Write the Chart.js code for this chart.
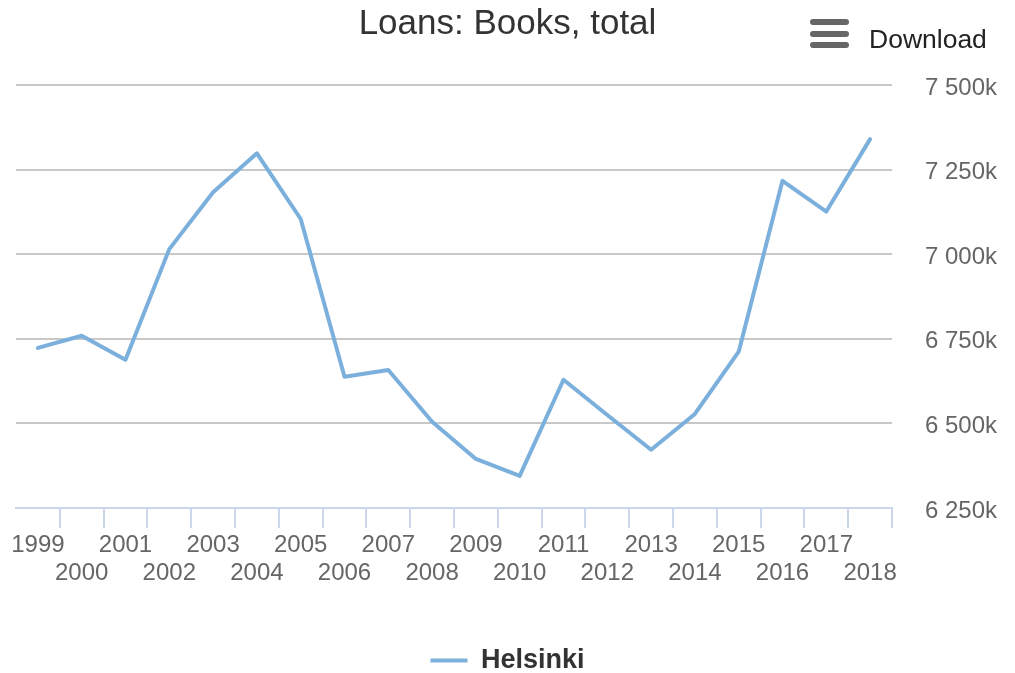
<!DOCTYPE html>
<html>
<head>
<meta charset="utf-8">
<script src="https://cdn.jsdelivr.net/npm/chart.js@4"></script>
<style>
  html, body { margin: 0; padding: 0; background: #fff; }
  #wrap { position: relative; width: 1015px; height: 673px; }
  .dl-icon { position: absolute; left: 810px; top: 19px; width: 39px; }
  .dl-icon span {
    display: block; height: 6px; border-radius: 3px; background: #666; margin-bottom: 5.5px;
  }
  .dl-txt {
    position: absolute; left: 869px; top: 24px;
    font-family: "Liberation Sans", Arial, sans-serif; font-size: 26.5px; color: #222;
  }
</style>
</head>
<body>
<div id="wrap">
  <canvas id="chart" width="1015" height="673"></canvas>
  <div class="dl-icon"><span></span><span></span><span></span></div>
  <div class="dl-txt">Download</div>
</div>
<script>
// thousands of loans per year
const years = ['1999', '2000', '2001', '2002', '2003', '2004', '2005', '2006', '2007', '2008',
               '2009', '2010', '2011', '2012', '2013', '2014', '2015', '2016', '2017', '2018'];
const helsinki = [6723, 6759, 6688, 7015, 7183, 7298, 7104, 6638, 6658, 6505,
                  6395, 6345, 6629, 6525, 6422, 6528, 6712, 7217, 7126, 7340];
const yTicks = [6250, 6500, 6750, 7000, 7250, 7500];

const FONT = '"Liberation Sans", Arial, sans-serif';

function fmtK(v) {
  return String(v).replace(/\B(?=(\d{3})+(?!\d))/g, ' ') + 'k';
}

new Chart(document.getElementById('chart'), {
  type: 'line',
  data: {
    labels: years,
    datasets: [{
      label: 'Helsinki',
      data: helsinki,
      xAxisID: 'x',
      yAxisID: 'y',
      borderColor: '#7cb0dc',
      backgroundColor: '#7cb0dc',
      borderWidth: 4,
      pointRadius: 0,
      pointHoverRadius: 0,
      tension: 0,
      borderJoinStyle: 'round',
      borderCapStyle: 'round'
    }]
  },
  options: {
    responsive: false,
    animation: false,
    layout: { padding: { left: 0, right: 0, top: 0, bottom: -11 } },
    plugins: {
      title: {
        display: true,
        text: 'Loans: Books, total',
        color: '#333',
        font: { family: FONT, size: 35, weight: 'normal', lineHeight: 1.2 },
        padding: { top: 3, bottom: 40 }
      },
      legend: {
        position: 'bottom',
        labels: {
          usePointStyle: true,
          pointStyle: 'line',
          pointStyleWidth: 37,
          color: '#333',
          padding: 2,
          font: { family: FONT, size: 27, weight: 'bold' }
        }
      },
      tooltip: { enabled: false }
    },
    scales: {
      x: {
        offset: true,
        grid: {
          offset: true,
          drawOnChartArea: false,
          drawTicks: true,
          tickLength: 20,
          lineWidth: 2,
          color: ctx => ctx.index === 0 ? 'rgba(0,0,0,0)' : '#ccd6eb'
        },
        border: { display: true, color: '#ccd6eb', width: 2 },
        ticks: {
          autoSkip: false,
          maxRotation: 0,
          minRotation: 0,
          padding: 3,
          color: '#666',
          font: { family: FONT, size: 24, lineHeight: 1.17 },
          callback: (v, i) => i % 2 === 0 ? [years[i], ''] : ['', years[i]]
        },
        afterFit: scale => { scale.height = 137; }
      },
      // empty left spacer so the title stays centred on the full width
      spacer: {
        type: 'linear',
        position: 'left',
        display: true,
        grid: { display: false },
        border: { display: false },
        ticks: { display: false },
        afterFit: scale => { scale.width = 16; }
      },
      y: {
        position: 'right',
        min: yTicks[0],
        max: yTicks[yTicks.length - 1],
        afterBuildTicks: scale => { scale.ticks = yTicks.map(v => ({ value: v })); },
        grid: {
          drawTicks: false,
          lineWidth: 2,
          color: ctx => ctx.tick && ctx.tick.value === yTicks[0] ? 'rgba(0,0,0,0)' : '#c8c8c8'
        },
        border: { display: false },
        ticks: {
          padding: 33,
          labelOffset: 3,
          color: '#666',
          font: { family: FONT, size: 24 },
          callback: v => fmtK(v)
        },
        afterFit: scale => { scale.width = 123; }
      }
    }
  }
});
</script>
</body>
</html>
